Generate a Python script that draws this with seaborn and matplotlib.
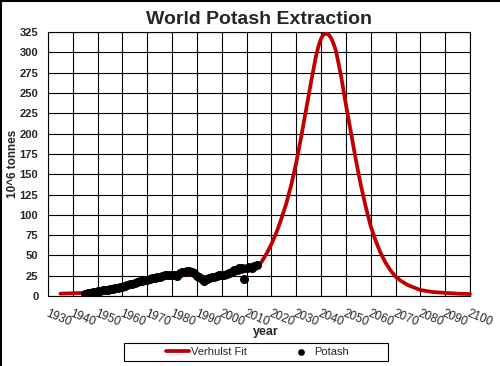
import pandas as pd
import numpy as np
import matplotlib.pyplot as plt
import seaborn as sns
from matplotlib.lines import Line2D
from matplotlib.patches import Rectangle

# Verhulst fit
fit_years = [1935, 1940, 1945, 1950, 1955, 1960, 1965, 1970, 1975, 1980, 1985, 1990, 1995, 2000,
             2005, 2008, 2010, 2012, 2014, 2016, 2018, 2020, 2022, 2024, 2026, 2028, 2030, 2032,
             2034, 2036, 2038, 2039, 2040, 2041, 2042, 2043, 2044, 2045, 2046, 2048, 2050, 2052,
             2054, 2056, 2058, 2060, 2062, 2064, 2066, 2068, 2070, 2072, 2075, 2080, 2085, 2090,
             2095, 2100]
fit_vals = [3, 3.5, 4, 6, 8.7, 11.7, 16, 20, 23, 25, 27, 25, 22.5, 25,
            28, 29.5, 31, 33, 36, 42, 52, 64, 78, 95, 114, 137, 164, 196,
            230, 264, 296, 308, 317, 322, 323, 322, 318, 311, 302, 272, 236, 202,
            168, 137, 110, 86, 68, 53, 41, 31.5, 24, 19, 13.5, 7.5, 5, 4,
            3, 2.5]

# potash production, 10^6 tonnes
potash_years = list(range(1945, 2015))
potash_vals = [3, 3.5, 4, 4.5, 5, 6, 6.5, 7, 7.5, 8,
               8.7, 9.3, 10, 10.3, 11, 11.7, 12.5, 13.3, 14.3, 15.3,
               16.3, 17.3, 18, 18.8, 19.5, 20.3, 21, 22, 22.8, 23.5,
               24, 25, 25.5, 26, 26.5, 26.5, 26, 25, 28, 29.5,
               29.5, 30.5, 31, 30, 28.5, 25, 23, 20.5, 19, 21,
               22.5, 23, 24, 25, 25.5, 25.5, 26, 27, 28.5, 30,
               32, 32, 34, 35, 20.5, 34, 36, 35, 37, 38]

x_ticks = list(range(1930, 2101, 10))
y_ticks = list(range(0, 326, 25))

fit = pd.DataFrame({"year": fit_years, "value": fit_vals})
potash = pd.DataFrame({"year": potash_years, "value": potash_vals})

sns.set_style("white")
plt.rcParams['font.family'] = ['Liberation Sans', 'DejaVu Sans']

fig = plt.figure(figsize=(5, 3.66), dpi=100)
ax = fig.add_axes([0.096, 0.191, 0.844, 0.7214])

sns.lineplot(data=fit, x="year", y="value", color="#c00000", linewidth=2.7,
             ax=ax, label="Verhulst Fit", zorder=3, clip_on=False)
sns.scatterplot(data=potash, x="year", y="value", color="black", s=42,
                edgecolor="black", linewidth=0, ax=ax, label="Potash", zorder=4)

ax.set_xlim(1930, 2100)
ax.set_ylim(0, 325)
ax.set_xticks(x_ticks)
ax.set_yticks(y_ticks)
ax.grid(True, color="black", linewidth=0.8)
ax.set_axisbelow(True)
for sp in ax.spines.values():
    sp.set_color("black")
    sp.set_linewidth(0.8)

ax.tick_params(axis="both", direction="out", length=3, width=0.8, color="black")
ax.tick_params(axis="y", labelsize=8, pad=4)
ax.tick_params(axis="x", labelsize=8.5, pad=5)
for lab in ax.get_yticklabels():
    lab.set_fontweight("bold")
plt.setp(ax.get_xticklabels(), rotation=-22, ha="left", va="top", rotation_mode="anchor")

ax.set_title("World Potash Extraction", fontsize=14, fontweight="bold", pad=6)
ax.set_xlabel("year", fontsize=9, fontweight="bold")
ax.set_ylabel("10^6 tonnes", fontsize=8.5, fontweight="bold")
ax.xaxis.set_label_coords(0.515, -0.115)
ax.yaxis.set_label_coords(-0.069, 0.5)

handles, labels = ax.get_legend_handles_labels()
ax.get_legend().remove()
fig.legend(handles, labels, ncol=2, loc="center", bbox_to_anchor=(0.515, 0.0383),
           frameon=False, fontsize=8, handlelength=2.1, handletextpad=0.15,
           columnspacing=3.8, borderpad=0, markerscale=0.75)
fig.add_artist(Rectangle((0.248, 0.0137), 0.528, 0.0492, transform=fig.transFigure,
                         fill=False, edgecolor="black", linewidth=0.8))

# outer chart border (top and left visible)
fig.add_artist(Line2D([0, 1], [0.998, 0.998], transform=fig.transFigure, color="black", linewidth=1.5))
fig.add_artist(Line2D([0.002, 0.002], [0, 1], transform=fig.transFigure, color="black", linewidth=1.5))

fig.savefig("out.png", dpi=100)
